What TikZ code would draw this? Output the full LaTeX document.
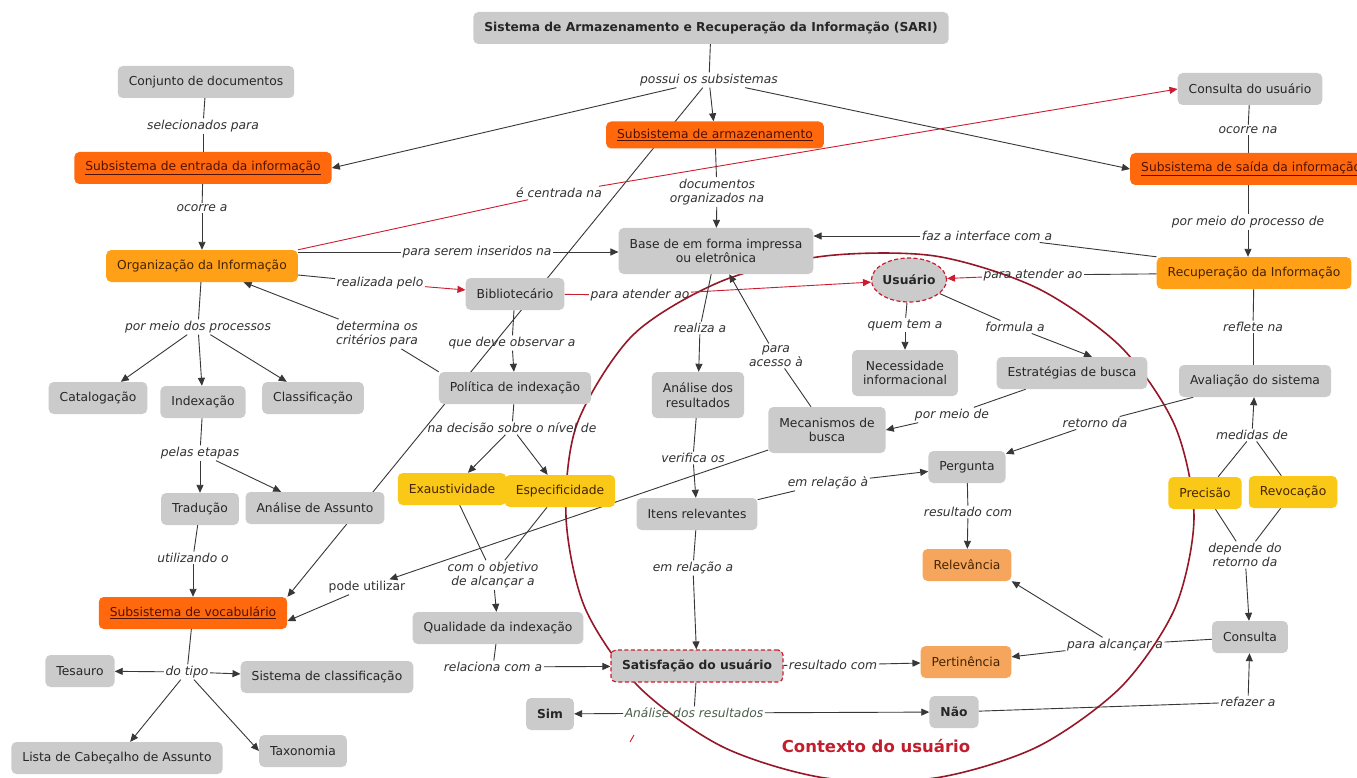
\documentclass[tikz,border=0pt]{standalone}
\usepackage{fontspec}
\setmainfont{DejaVu Sans}
\usetikzlibrary{arrows.meta,shapes.geometric,calc}
\pgfdeclarelayer{background}
\pgfsetlayers{background,main}
\definecolor{cbox}{RGB}{203,203,203}
\definecolor{csubs}{RGB}{255,104,12}
\definecolor{csubstext}{RGB}{80,18,0}
\definecolor{camber}{RGB}{255,160,22}
\definecolor{cyel}{RGB}{250,200,22}
\definecolor{cpeach}{RGB}{245,166,92}
\definecolor{cwarmtext}{RGB}{70,35,0}
\definecolor{cline}{RGB}{55,55,55}
\definecolor{clabel}{RGB}{50,50,50}
\definecolor{cred}{RGB}{205,28,48}
\definecolor{cctx}{RGB}{150,24,40}
\definecolor{cctxtext}{RGB}{195,30,45}
\definecolor{cgreen}{RGB}{75,95,75}
\newcommand{\nfont}{\fontsize{12.3}{14.5}\selectfont}
\begin{document}
\begin{tikzpicture}[x=1pt,y=-1pt,
  box/.style={rectangle, rounded corners=5pt, fill=cbox, text=black!85,
    font=\nfont, inner xsep=11pt, inner ysep=3pt, minimum height=32pt, align=center},
  two/.style={minimum height=46pt},
  subs/.style={box, fill=csubs, text=csubstext},
  amber/.style={box, fill=camber, text=cwarmtext},
  yel/.style={box, fill=cyel, text=cwarmtext},
  peach/.style={box, fill=cpeach, text=cwarmtext},
  bold/.style={font=\nfont\bfseries},
  sat/.style={box, bold, draw=cred, line width=1.2pt, dash pattern=on 4pt off 2.5pt},
  usr/.style={ellipse, fill=cbox, draw=cred, line width=1.2pt, dash pattern=on 4pt off 2.5pt,
    font=\nfont\bfseries, text=black!85, minimum width=72pt, minimum height=44pt, inner sep=0pt},
  lbl/.style={font=\nfont\itshape, text=clabel, inner sep=1.5pt, align=center},
  uplbl/.style={lbl, font=\nfont},
  ctxt/.style={font=\fontsize{16.5}{19}\selectfont\bfseries, text=cctxtext},
  ln/.style={draw=cline, line width=0.9pt},
  arr/.style={ln, -{Triangle[length=8pt,width=7pt]}},
  rln/.style={draw=cred, line width=0.9pt},
  rarr/.style={rln, -{Triangle[length=8pt,width=7pt]}},
  ctxline/.style={draw=cctx, line width=1.6pt}
]
\useasboundingbox (0,0) rectangle (1357,778);

% ---- concepts and linking phrases ----
\node[box, bold] (sari) at (711,28) {Sistema de Armazenamento e Recuperação da Informação (SARI)};
\node[lbl] (possui) at (709,80) {possui os subsistemas};
\node[box] (conj) at (206,82) {Conjunto de documentos};
\node[lbl] (selec) at (203,126) {selecionados para};
\node[subs] (entrada) at (203,168) {\underline{Subsistema de entrada da informação}};
\node[lbl] (ocorrea) at (202,208) {ocorre a};
\node[amber] (org) at (202,266) {Organização da Informação};
\node[subs, minimum height=27pt] (armaz) at (715,135) {\underline{Subsistema de armazenamento}};
\node[lbl] (docorg) at (717,192) {documentos\\organizados na};
\node[lbl] (centrada) at (559,193) {é centrada na};
\node[box] (consU) at (1250,89) {Consulta do usuário};
\node[lbl] (ocorrena) at (1248,130) {ocorre na};
\node[subs, anchor=west] (saida) at (1130,169) {\underline{Subsistema de saída da informação}};
\node[lbl] (procde) at (1248,222) {por meio do processo de};
\node[lbl] (interf) at (987,236) {faz a interface com a};
\node[box, two] (base) at (716,251) {Base de em forma impressa\\ou eletrônica};
\node[lbl] (inser) at (477,252) {para serem inseridos na};
\node[lbl] (realiz) at (380,283) {realizada pelo};
\node[box] (bib) at (515,294) {Bibliotecário};
\node[lbl] (atend1) at (640,295) {para atender ao};
\node[usr] (usu) at (909,280) {Usuário};
\node[lbl] (atend2) at (1033,275) {para atender ao};
\node[amber] (recup) at (1254,273) {Recuperação da Informação};
\node[lbl] (determ) at (377,334) {determina os\\critérios para};
\node[lbl] (procs) at (198,327) {por meio dos processos};
\node[lbl] (observ) at (512,343) {que deve observar a};
\node[lbl] (realiza) at (700,328) {realiza a};
\node[lbl] (quem) at (905,325) {quem tem a};
\node[lbl] (formula) at (1015,327) {formula a};
\node[lbl] (reflete) at (1253,327) {reflete na};
\node[lbl] (acesso) at (776,356) {para\\acesso à};
\node[box] (catal) at (98,398) {Catalogação};
\node[box] (index) at (203,402) {Indexação};
\node[box] (classif) at (313,398) {Classificação};
\node[box] (polit) at (515,388) {Política de indexação};
\node[box, two] (analres) at (698,395) {Análise dos\\resultados};
\node[box, two] (necess) at (905,373) {Necessidade\\informacional};
\node[box] (estrat) at (1072,373) {Estratégias de busca};
\node[box] (aval) at (1255,381) {Avaliação do sistema};
\node[lbl] (porde) at (952,415) {por meio de};
\node[lbl] (retorno) at (1095,423) {retorno da};
\node[lbl] (decisao) at (512,428) {na decisão sobre o nível de};
\node[box, two] (mecan) at (827,430) {Mecanismos de\\busca};
\node[lbl] (medidas) at (1252,435) {medidas de};
\node[lbl] (etapas) at (200,453) {pelas etapas};
\node[lbl] (verif) at (693,458) {verifica os};
\node[box] (perg) at (967,467) {Pergunta};
\node[lbl] (emrel2) at (828,483) {em relação à};
\node[yel] (exaus) at (452,489) {Exaustividade};
\node[yel] (espec) at (560,491) {Especificidade};
\node[yel] (prec) at (1205,493) {Precisão};
\node[yel] (revoc) at (1293,492) {Revocação};
\node[box] (trad) at (200,509) {Tradução};
\node[box] (analass) at (315,508) {Análise de Assunto};
\node[box] (itens) at (697,514) {Itens relevantes};
\node[lbl] (result1) at (968,512) {resultado com};
\node[lbl] (depende) at (1245,555) {depende do\\retorno da};
\node[lbl] (utiliz) at (193,558) {utilizando o};
\node[peach] (relev) at (967,565) {Relevância};
\node[lbl] (objet) at (493,575) {com o objetivo\\de alcançar a};
\node[lbl] (emrel1) at (693,568) {em relação a};
\node[uplbl] (podeut) at (367,587) {pode utilizar};
\node[subs] (vocab) at (193,613) {\underline{Subsistema de vocabulário}};
\node[box] (qualid) at (498,628) {Qualidade da indexação};
\node[box] (consulta) at (1250,637) {Consulta};
\node[lbl] (alcanc) at (1115,645) {para alcançar a};
\node[lbl] (relac) at (493,667) {relaciona com a};
\node[sat] (satisf) at (697,666) {Satisfação do usuário};
\node[lbl] (result2) at (833,665) {resultado com};
\node[peach] (pertin) at (966,662) {Pertinência};
\node[lbl] (dotipo) at (187,672) {do tipo};
\node[box] (tesauro) at (80,671) {Tesauro};
\node[box] (sistclass) at (327,677) {Sistema de classificação};
\node[lbl, text=cgreen] (analbl) at (694,713) {Análise dos resultados};
\node[box, bold] (sim) at (550,714) {Sim};
\node[box, bold] (nao) at (954,712) {Não};
\node[lbl] (refazer) at (1248,702) {refazer a};
\node[box] (lista) at (117,758) {Lista de Cabeçalho de Assunto};
\node[box] (taxon) at (303,751) {Taxonomia};
\node[ctxt] (contexto) at (876,746) {Contexto do usuário};

% ---- connectors, behind the concepts ----
\begin{pgfonlayer}{background}
\fill[white] (0,0) rectangle (1357,778);
% user context boundary
\draw[ctxline] plot[smooth cycle] coordinates {
  (1194,517) (1175,426) (1121,347) (1037,288) (935,256) (825,256)
  (722,281) (633,335) (577,424) (566,517) (585,608) (639,687)
  (723,747) (825,778) (935,778) (1037,747) (1121,687) (1175,608)};
\draw[cred, line width=0.9pt] (630,742) -- (634,735);

\draw[ln] (sari) -- (possui);
\draw[arr] (possui) -- (entrada.east);
\draw[arr] (possui) -- (armaz);
\draw[arr] (possui) -- (saida.west);
\draw[arr] (possui) -- (vocab.north east);

\draw[ln] (conj) -- (selec);
\draw[ln] (selec) -- (entrada);
\draw[ln] (entrada) -- (ocorrea);
\draw[arr] (ocorrea) -- (org);

\draw[ln] (inser.west -| org.east) -- (inser);
\draw[arr] (inser) -- (inser -| base.west);
\draw[rln] (org.north east) -- (centrada);
\draw[rarr] (centrada) -- (consU.west);
\draw[ln] ([yshift=-9pt]org.east) -- (realiz);
\draw[rarr] (realiz) -- (bib);

\draw[ln] (org) -- (procs);
\draw[arr] (procs) -- (catal);
\draw[arr] (procs) -- (index);
\draw[arr] (procs) -- (classif);
\draw[ln] (index) -- (etapas);
\draw[arr] (etapas) -- (trad);
\draw[arr] (etapas) -- (analass);
\draw[ln] (trad) -- (utiliz);
\draw[arr] (utiliz) -- (vocab);
\draw[ln] (vocab) -- (dotipo);
\draw[arr] (dotipo) -- (tesauro);
\draw[arr] (dotipo) -- (sistclass);
\draw[arr] (dotipo) -- (lista);
\draw[arr] (dotipo) -- (taxon.west);

\draw[ln] (armaz) -- (docorg);
\draw[arr] (docorg) -- (base);
\draw[ln] (consU) -- (ocorrena);
\draw[ln] (ocorrena) -- (ocorrena |- saida.north);
\draw[ln] (procde |- saida.south) -- (procde);
\draw[arr] (procde) -- (procde |- recup.north);
\draw[ln] (recup.north west) -- (interf);
\draw[arr] (interf) -- (interf -| base.east);
\draw[ln] (recup) -- (atend2);
\draw[rarr] (atend2) -- (usu);
\draw[ln] (recup) -- (reflete);
\draw[ln] (reflete) -- (reflete |- aval.north);

\draw[rln] (bib) -- (atend1);
\draw[rarr] (atend1) -- (usu);
\draw[ln] (bib) -- (observ);
\draw[arr] (observ) -- (polit);
\draw[ln] (polit.north west) -- (determ);
\draw[arr] (determ) -- (org);
\draw[ln] (polit) -- (decisao);
\draw[arr] (decisao) -- (exaus);
\draw[arr] (decisao) -- (espec);
\draw[ln] (exaus) -- (objet);
\draw[ln] (espec) -- (objet);
\draw[arr] (objet) -- (qualid);
\draw[ln] (qualid) -- (relac);
\draw[arr] (relac) -- (satisf);

\draw[ln] (base) -- (realiza);
\draw[arr] (realiza) -- (analres);
\draw[ln] (analres) -- (verif);
\draw[arr] (verif) -- (itens);
\draw[ln] (itens) -- (emrel1);
\draw[arr] (emrel1) -- (satisf);
\draw[ln] (itens) -- (emrel2);
\draw[arr] (emrel2) -- (perg);
\draw[ln] (mecan) -- (acesso);
\draw[arr] (acesso) -- (base);
\draw[arr] (mecan) -- (podeut);
\draw[arr] (podeut) -- ([yshift=-8pt]vocab.east);

\draw[ln] (usu) -- (quem);
\draw[arr] (quem) -- (necess);
\draw[ln] (usu) -- (formula);
\draw[arr] (formula) -- ([xshift=20pt]estrat.north);
\draw[ln] (estrat) -- (porde);
\draw[arr] (porde) -- (mecan.east);
\draw[ln] (aval) -- (retorno);
\draw[arr] (retorno) -- (perg);
\draw[ln] (prec) -- (medidas);
\draw[ln] (revoc) -- (medidas);
\draw[arr] (medidas) -- (aval);
\draw[ln] (prec) -- (depende);
\draw[ln] (revoc) -- (depende);
\draw[arr] (depende) -- (consulta);
\draw[ln] (perg) -- (result1);
\draw[arr] (result1) -- (relev);
\draw[ln] (consulta) -- (alcanc);
\draw[arr] (alcanc) -- (relev.south east);
\draw[arr] (alcanc) -- (pertin);
\draw[ln] (satisf) -- (result2);
\draw[arr] (result2) -- (pertin);
\draw[ln] (satisf) -- (analbl);
\draw[arr] (analbl) -- (sim);
\draw[arr] (analbl) -- (nao);
\draw[ln] (nao) -- (refazer);
\draw[arr] (refazer) -- (consulta);
\end{pgfonlayer}
\end{tikzpicture}
\end{document}
